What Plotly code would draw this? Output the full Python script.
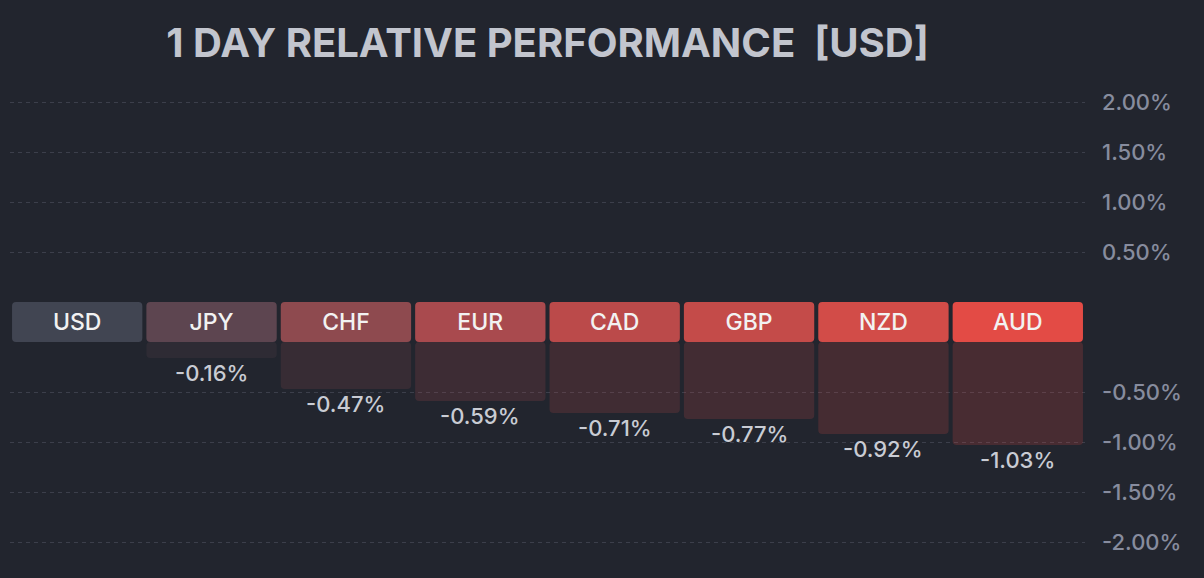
import plotly.graph_objects as go

currencies = ["USD", "JPY", "CHF", "EUR", "CAD", "GBP", "NZD", "AUD"]
values = [0.00, -0.16, -0.47, -0.59, -0.71, -0.77, -0.92, -1.03]
label_colors = ["#414552", "#5d4550", "#8e4a4f", "#a94a4e", "#bb4a4a", "#c44b49", "#d24c48", "#e34b45"]

tick_values_pos = [2.0, 1.5, 1.0, 0.5]
tick_values_neg = [-0.5, -1.0, -1.5, -2.0]

BAND = 0.4  # height of the label band (in % units) inserted at zero

def hex_rgba(h, a):
    h = h.lstrip("#")
    return f"rgba({int(h[0:2],16)},{int(h[2:4],16)},{int(h[4:6],16)},{a})"

BG = "#22252e"
FONT = "Inter"

fig = go.Figure()

# value bars (below the label band)
fig.add_trace(go.Bar(
    x=currencies, y=values, base=[-BAND] * len(values),
    marker=dict(color=[hex_rgba(c, 0.2) for c in label_colors], line=dict(width=0), cornerradius=4),
    width=0.97, hoverinfo="skip", showlegend=False,
))

# label band bars
fig.add_trace(go.Bar(
    x=currencies, y=[BAND] * len(currencies), base=[-BAND] * len(currencies),
    marker=dict(color=label_colors, line=dict(width=0), cornerradius=4),
    width=0.97, text=currencies, textposition="inside", insidetextanchor="middle",
    textfont=dict(family=FONT, size=23, weight=500, color="#f2f2f2"), textangle=0,
    hoverinfo="skip", showlegend=False,
))

# value labels
annotations = []
for c, v in zip(currencies, values):
    if v == 0:
        continue
    annotations.append(dict(
        x=c, y=v - BAND, xref="x", yref="y", text=f"{v:.2f}%", showarrow=False,
        yanchor="top", xanchor="center", yshift=0,
        font=dict(family=FONT, size=22, weight=500, color="#c9ccd4"),
    ))

tickvals = tick_values_pos + [v - BAND for v in tick_values_neg]
ticktext = [f"{v:.2f}%" for v in tick_values_pos + tick_values_neg]

fig.update_layout(
    width=1204, height=578,
    paper_bgcolor=BG, plot_bgcolor=BG,
    margin=dict(l=10, r=119, t=72, b=6),
    barmode="overlay",
    annotations=annotations,
    title=dict(text="<b>1 DAY RELATIVE PERFORMANCE  [USD]</b>", x=0.5, xref="paper",
               y=1 - 43 / 578, yref="container", yanchor="middle", xanchor="center",
               font=dict(family=FONT, size=40, color="#c2c5ce")),
    xaxis=dict(range=[-0.5, 7.5], showticklabels=False, showgrid=False, zeroline=False,
               showline=False, fixedrange=True),
    yaxis=dict(range=[-2.7, 2.3], side="right", tickmode="array", tickvals=tickvals,
               ticktext=ticktext, showgrid=True, gridcolor="#3c3f4b", griddash="4px,4px",
               gridwidth=1, zeroline=False, showline=False, ticks="",
               ticklabelstandoff=16,
               tickfont=dict(family=FONT, size=22, weight=500, color="#878c9e")),
    showlegend=False,
)

fig.write_html("out.html", config={"displayModeBar": False},
               post_script="document.body.style.margin='0';document.body.style.background='%s';" % BG)
